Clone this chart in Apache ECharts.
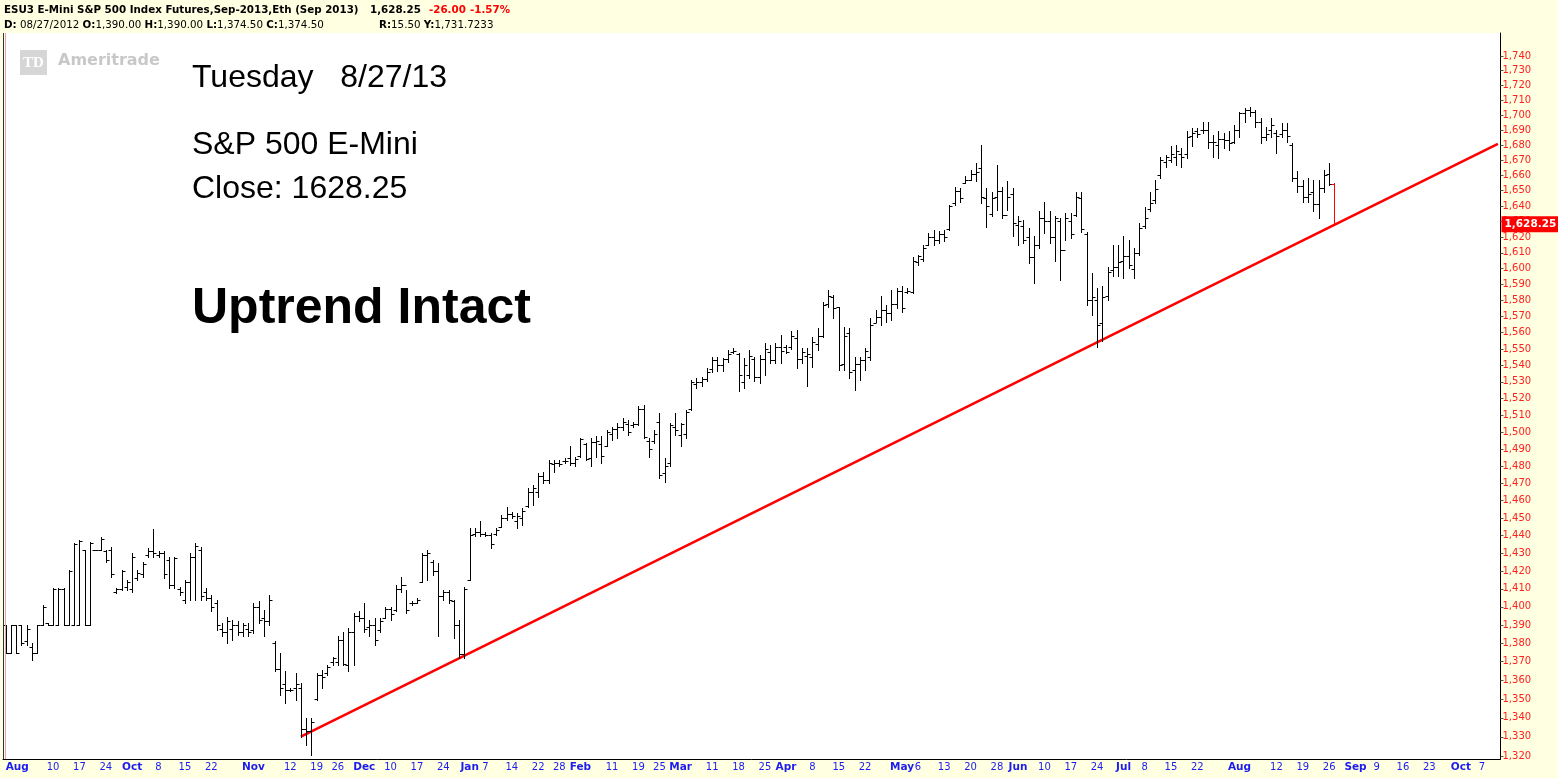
<!DOCTYPE html>
<html><head><meta charset="utf-8">
<script src="https://cdn.jsdelivr.net/npm/echarts@6/dist/echarts.min.js"></script>
<style>html,body{margin:0;padding:0;background:#FFFFE1;}#c{width:1558px;height:778px;}</style>
</head><body><div id="c"></div>
<script>
// ---- calendar (trading days incl. future blank days) ----
const startDate = '2012-08-27';
const endDate = '2013-10-10';
const holidays = ['2012-09-03','2012-11-22','2012-12-25','2013-01-01','2013-01-21','2013-02-18','2013-03-29','2013-05-27','2013-07-04','2013-09-02'];

// ---- OHLC values (ESU3 daily) ----
const opens = [
1390,1374.5,1390,1390,1381,1378,1375,1390,1391,1390,
1390,1410,1390,1390,1390,1432,1390,1431.5,1432,1431,
1432,1408,1410,1411,1410,1416,1418,1429,1431,1429,
1430,1426,1412,1410,1404,1414,1428,1432,1408,1405,
1402,1388,1386,1388,1390,1386,1388,1387,1400,1394,
1392,1380,1366,1358,1355,1356,1356,1334,1333,1350,
1363,1364,1370,1370,1382,1368,1386,1395,1394,1389,
1390,1387,1394,1399,1398,1410,1412,1402,1402,1414,
1429,1425,1420,1406,1408,1403,1390,1374,1415,1441,
1442,1441,1440,1441,1445,1450,1452,1448,1450,1457,
1465,1465,1474,1472,1481,1482,1483,1485,1482,1486,
1493,1485,1494,1493,1492,1499,1502,1503,1505,1504,
1505,1514,1495,1495,1506,1476,1482,1503,1498,1499,
1514,1529,1530,1532,1538,1543,1540,1544,1548,1547,
1530,1534,1544,1533,1544,1548,1543,1551,1551,1551,
1557,1544,1546,1545,1553,1558,1578,1582,1576,1541,
1560,1537,1541,1543,1545,1566,1570,1574,1572,1578,
1586,1585,1585,1604,1606,1615,1620,1618,1622,1625,
1642,1650,1655,1657,1661,1665,1645,1635,1646,1650,
1634,1648,1628,1627,1620,1607,1615,1632,1630,1620,
1630,1612,1630,1634,1645,1622,1580,1580,1566,1583,
1599,1601,1605,1608,1600,1610,1627,1638,1644,1660,
1669,1670,1672,1674,1674,1686,1689,1690,1690,1682,
1680,1684,1683,1682,1690,1701,1703,1702,1695,1685,
1690,1688,1687,1690,1680,1658,1653,1646,1649,1641,
1652,1661,1654.5];
const highs = [
1390,1390,1390,1390,1390,1380,1390,1401,1391,1410.5,
1410.5,1410.5,1420.5,1436,1437.5,1432,1436.5,1432,1439,1432,
1433.75,1410.5,1420.5,1415,1430,1420.5,1425.25,1432.75,1443.5,1431,
1431,1428,1428,1411.25,1415,1430,1435.5,1433.75,1410.5,1406.5,
1403.75,1391,1394.5,1392.75,1392,1391,1391,1402,1403,1398.25,
1406.5,1381,1374.5,1364.75,1356,1363.75,1358.5,1339.75,1339.75,1364,
1365.5,1368.25,1372.75,1383.75,1386.25,1388.25,1396.5,1397.5,1402,1392.75,
1393.75,1393.75,1400,1400,1412.25,1416.75,1409.5,1403,1405,1430,
1431.75,1426.25,1424.25,1409.5,1409.5,1403.75,1392.75,1411.25,1444,1444,
1448,1442.25,1441.25,1444,1451.75,1456.5,1453.5,1452.75,1455.5,1467,
1469,1476,1476.75,1483.5,1483.5,1483.5,1484.5,1491.5,1485.5,1496.5,
1493.5,1496.5,1497.5,1497.5,1501.25,1503.25,1505.25,1508.25,1507.25,1506,
1515.25,1516.25,1496.5,1501.25,1511.25,1484.5,1505.25,1511.25,1505.25,1513.25,
1531.25,1532.25,1533.25,1538.25,1545.25,1545.25,1544.25,1549.5,1550.5,1547.5,
1544.25,1549.5,1545.25,1546.5,1553.5,1552.5,1553.5,1558.5,1552.5,1561.25,
1561.75,1550.5,1550.5,1557.5,1562.75,1579.25,1586.5,1583.5,1576,1563.75,
1562.75,1545.25,1545.25,1550.5,1569,1574,1582.5,1577.25,1586.5,1587.75,
1588.75,1587.75,1607.5,1608.5,1615,1622.5,1624.5,1624,1624.5,1640.75,
1652.5,1651.5,1659.25,1663.5,1668,1680,1651.5,1649.25,1666.75,1652.5,
1656,1651.5,1633.25,1631,1625.75,1620.5,1636.5,1642.75,1636.5,1633.25,
1632,1635.25,1635.25,1649.25,1649.25,1623.5,1597,1587.75,1588.75,1601.25,
1615,1615,1620.5,1618.25,1613,1629,1639.5,1649.25,1657,1672.25,
1673.5,1679,1680,1677.75,1689,1691,1691,1695.5,1695.5,1686.75,
1689,1687.75,1689,1693.25,1702.25,1704.5,1705.5,1703.5,1697.75,1692.25,
1697.75,1690,1694.5,1694.5,1681,1662.5,1657,1658,1657,1657,
1663.5,1668,1655];
const lows = [
1374.5,1374.5,1374.5,1379,1379,1371,1374.5,1390,1390,1390,
1390,1390,1390,1390,1390,1390,1390,1431.5,1431.5,1425,
1416.75,1407.5,1409.5,1409.5,1408.5,1415,1416.75,1428,1428,1428,
1416,1410.5,1410.5,1406.5,1402,1403.75,1403.75,1403.75,1403.75,1397.5,
1387.25,1383.75,1380,1382,1384.5,1383.75,1383.75,1385.5,1391,1383.75,
1390,1364.75,1352.25,1347.75,1354,1349.5,1330,1325.75,1320.5,1349.5,
1355.75,1363,1368.25,1368.25,1368.25,1364.75,1368.25,1392,1386.25,1383.75,
1379,1386.25,1393.75,1392.75,1397.5,1408.5,1396.5,1401,1402,1414,
1415,1417.75,1383.75,1403.75,1402,1383,1372,1372,1415,1439.5,
1439.5,1439.5,1432.75,1440.5,1445,1449,1450,1444,1446,1456.5,
1457.5,1462.25,1470,1470,1476.75,1479.75,1482,1480.75,1479.75,1485.5,
1483.5,1479.75,1485.5,1481.75,1491.5,1495.5,1496.5,1501.25,1498.25,1503,
1504.25,1496.5,1485.5,1493.5,1473,1471,1479.75,1498.25,1491.5,1496.5,
1513.25,1526.25,1527.25,1530.25,1536.25,1536.75,1536.75,1542.25,1547.5,1524.25,
1526.25,1532.25,1530.25,1529.25,1534.25,1541.25,1541.25,1541.25,1547.5,1550,
1538.25,1541.25,1527.25,1539.25,1549.5,1557.5,1576,1569,1537.25,1537.25,
1532.25,1525.25,1531.25,1537.25,1543.25,1566.75,1564.75,1566.75,1568,1575,
1573,1584.5,1584.5,1602.25,1604.5,1615,1615,1616,1617.25,1624.5,
1640.75,1642.75,1654.75,1657,1656,1641.75,1626.75,1633.25,1637.5,1632,
1637.5,1620.5,1615,1616,1603.5,1590.75,1613,1622.5,1616,1604.5,
1592.75,1618.25,1619.25,1633.25,1623.5,1577.25,1571,1551,1555,1580.25,
1595,1595,1593.75,1600.25,1593.75,1608.75,1625.75,1636.5,1641.75,1658,
1665.75,1669,1666.75,1665.75,1671.25,1679,1685.5,1687.75,1677.75,1672.25,
1671.25,1677.75,1676.75,1681,1685.5,1695.5,1699,1692.25,1681,1683.25,
1685.5,1674.5,1685.5,1682.25,1656,1649.25,1642.75,1642.75,1636.5,1632,
1649.25,1653.75,1627.5];
const closes = [
1374.5,1390,1374.5,1380,1388,1375,1390,1400,1390,1410,
1410,1390,1420,1435,1437,1390,1436,1432,1438,1426,
1418,1410,1420,1414,1428,1419,1424,1431,1430,1430,
1418,1412,1427,1408,1414,1428,1434,1406,1405,1400,
1390,1386,1392,1390,1386,1390,1386,1400,1393,1392,
1404,1366,1356,1355,1355,1358,1334,1333,1338,1363,
1362,1367,1372,1382,1369,1386,1395,1394,1388,1390,
1382,1392,1399,1396,1410,1412,1398,1402,1404,1429,
1430,1420,1406,1408,1404,1390,1374,1410,1440,1442,
1441,1440,1435,1443,1450,1452,1451,1451,1454,1465,
1467,1474,1472,1482,1482,1481,1483,1482,1484,1496,
1484,1494,1495,1486,1500,1502,1503,1506,1500,1505,
1514,1497,1490,1499,1475,1480,1504,1501,1505,1512,
1530,1530,1532,1536,1543,1540,1544,1547,1549,1534,
1540,1546,1533,1544,1550,1543,1551,1549,1548,1558,
1544,1548,1547,1554,1558,1577,1583,1575,1540,1558,
1536,1541,1543,1549,1565,1570,1574,1572,1578,1586,
1575,1586,1605,1608,1613,1620,1618,1622,1620,1640,
1650,1645,1657,1661,1662,1646,1640,1645,1650,1634,
1646,1629,1630,1618,1607,1615,1632,1630,1620,1632,
1612,1632,1622,1646,1625,1580,1582,1565,1582,1598,
1601,1604,1608,1602,1610,1626,1632,1642,1651,1670,
1672,1674,1676,1672,1685,1688,1687,1690,1682,1682,
1684,1683,1681,1690,1701,1703,1702,1695,1685,1687,
1693,1686,1690,1686,1658,1653,1646,1648,1641,1652,
1660,1654.25,1628.25];

// ---- axis ticks / labels ----
const yTicks = [1320,1330,1340,1350,1360,1370,1380,1390,1400,1410,1420,1430,1440,1450,1460,1470,1480,1490,1500,1510,1520,1530,1540,1550,1560,1570,1580,1590,1600,1610,1620,1630,1640,1650,1660,1670,1680,1690,1700,1710,1720,1730,1740];
const xLabelDates = ['2012-08-27','2012-09-10','2012-09-17','2012-09-24','2012-10-01','2012-10-08','2012-10-15','2012-10-22','2012-11-01','2012-11-12','2012-11-19','2012-11-26','2012-12-03','2012-12-10','2012-12-17','2012-12-24','2013-01-02','2013-01-07','2013-01-14','2013-01-22','2013-01-28','2013-02-01','2013-02-11','2013-02-19','2013-02-25','2013-03-01','2013-03-11','2013-03-18','2013-03-25','2013-04-01','2013-04-08','2013-04-15','2013-04-22','2013-05-01','2013-05-06','2013-05-13','2013-05-20','2013-05-28','2013-06-03','2013-06-10','2013-06-17','2013-06-24','2013-07-01','2013-07-08','2013-07-15','2013-07-22','2013-08-01','2013-08-12','2013-08-19','2013-08-26','2013-09-03','2013-09-09','2013-09-16','2013-09-23','2013-10-01','2013-10-07'];
const xLabelTexts = ['Aug','10','17','24','Oct','8','15','22','Nov','12','19','26','Dec','10','17','24','Jan','7','14','22','28','Feb','11','19','25','Mar','11','18','25','Apr','8','15','22','May','6','13','20','28','Jun','10','17','24','Jul','8','15','22','Aug','12','19','26','Sep','9','16','23','Oct','7'];

// ---- trendline & last price ----
const trendDates = ['2012-11-14','2013-10-10'];
const trendValues = [1330.1, 1680.7];
const lastClose = 1628.25;
const cursorDate = '2012-08-27';

// build trading calendar
const dates = [];
(function(){
  const d = new Date(startDate + 'T00:00:00Z');
  const end = new Date(endDate + 'T00:00:00Z');
  while (d <= end) {
    const wd = d.getUTCDay();
    const s = d.toISOString().slice(0,10);
    if (wd !== 0 && wd !== 6 && holidays.indexOf(s) < 0) dates.push(s);
    d.setUTCDate(d.getUTCDate()+1);
  }
})();
const xLabelMap = {};
xLabelDates.forEach((d,i)=>{ xLabelMap[d] = xLabelTexts[i]; });
const monthNames = ['Jan','Feb','Mar','Apr','May','Jun','Jul','Aug','Sep','Oct','Nov','Dec'];

const ohlc = opens.map((o,i)=>[i, o, highs[i], lows[i], closes[i]]);
const lastIdx = closes.length - 1;

const chart = echarts.init(document.getElementById('c'), null, {renderer:'canvas', width:1558, height:778});
const hdrFont = '10.3px "DejaVu Sans"';
const hdrBold = 'bold 10.3px "DejaVu Sans"';

const option = {
  backgroundColor: '#FFFFE1',
  animation: false,
  grid: {left:3, right:57.5, top:33, bottom:19, show:true, backgroundColor:'#ffffff', borderWidth:0, containLabel:false, outerBoundsMode:'none'},
  xAxis: {
    type:'category', data: dates, boundaryGap: true,
    axisLine:{show:true, lineStyle:{color:'#000', width:1}},
    axisTick:{show:false},
    splitLine:{show:false},
    axisLabel:{
      interval: (i, v) => xLabelMap[v] !== undefined,
      formatter: v => { const t = xLabelMap[v]; if (t === undefined) return ''; return monthNames.indexOf(t) >= 0 ? '{m|' + t + '}' : '{n|' + t + '}'; },
      margin: 3,
      alignMinLabel: 'left',
      rich: {
        m: {fontFamily:'DejaVu Sans', fontWeight:'bold', fontSize:10.5, color:'#1c1cf0'},
        n: {fontFamily:'DejaVu Sans', fontSize:10, color:'#1c1cf0'}
      }
    }
  },
  yAxis: {
    type:'log', logBase:10, min:1318.4, max:1755.9, position:'right',
    axisLine:{show:true, lineStyle:{color:'#000', width:1}},
    axisTick:{show:true, customValues: yTicks, length:3, lineStyle:{color:'#555'}},
    axisLabel:{customValues: yTicks, formatter: v => Number(v).toLocaleString('en-US'), color:'#ff2020', fontSize:10, fontFamily:'DejaVu Sans', margin:2},
    splitLine:{show:false}
  },
  series: [
    {
      type:'custom', name:'ESU3', data: ohlc, encode:{x:0, y:[1,2,3,4]}, z:5,
      renderItem: function(params, api){
        const idx = api.value(0);
        const pH = api.coord([idx, api.value(2)]);
        const pL = api.coord([idx, api.value(3)]);
        const pO = api.coord([idx, api.value(1)]);
        const pC = api.coord([idx, api.value(4)]);
        const x = Math.round(pH[0]) + 0.5;
        const col = idx === lastIdx ? '#ff0000' : '#000000';
        const yo = Math.round(pO[1]) + 0.5, yc = Math.round(pC[1]) + 0.5;
        return {type:'group', children:[
          {type:'line', shape:{x1:x, y1:Math.round(pH[1]), x2:x, y2:Math.round(pL[1])+1}, style:{stroke:col, lineWidth:1}},
          {type:'line', shape:{x1:x-3, y1:yo, x2:x, y2:yo}, style:{stroke:col, lineWidth:1}},
          {type:'line', shape:{x1:x, y1:yc, x2:x+3, y2:yc}, style:{stroke:col, lineWidth:1}}
        ]};
      }
    },
    {
      type:'line', name:'trend', data: trendDates.map((d,i)=>[d, trendValues[i]]),
      symbol:'none', lineStyle:{color:'#ff0000', width:2.6}, z:4, silent:true,
      markLine:{
        silent:true, symbol:['none','none'], animation:false, z:20,
        data:[
          {yAxis: lastClose, lineStyle:{color:'rgba(255,255,255,0)', width:0},
           label:{show:true, position:'end', distance:1, formatter: () => Number(lastClose).toLocaleString('en-US',{minimumFractionDigits:2}),
                  backgroundColor:'#ff0000', color:'#ffffff', fontWeight:'bold', fontSize:10.5, fontFamily:'DejaVu Sans', padding:[3,4,2,3], opacity:1}},
          {xAxis: cursorDate, lineStyle:{color:'#f2a0a0', width:1, type:'solid'}, label:{show:false}}
        ]
      }
    }
  ],
  graphic: [
    {type:'line', shape:{x1:3.5, y1:33, x2:3.5, y2:759}, style:{stroke:'#333', lineWidth:1}, z:10},
    {type:'text', style:{x:4, y:10, text:'ESU3 E-Mini S&P 500 Index Futures,Sep-2013,Eth (Sep 2013)', font:hdrBold, fill:'#000', verticalAlign:'middle'}},
    {type:'text', style:{x:370, y:10, text:'1,628.25', font:hdrBold, fill:'#000', verticalAlign:'middle'}},
    {type:'text', style:{x:429, y:10, text:'-26.00', font:hdrBold, fill:'#ff0000', verticalAlign:'middle'}},
    {type:'text', style:{x:470, y:10, text:'-1.57%', font:hdrBold, fill:'#ff0000', verticalAlign:'middle'}},
    {type:'text', style:{x:4, y:25, text:'{b|D:} 08/27/2012 {b|O:}1,390.00 {b|H:}1,390.00 {b|L:}1,374.50 {b|C:}1,374.50', font:hdrFont, fill:'#000', verticalAlign:'middle', rich:{b:{font:hdrBold, fill:'#000'}}}},
    {type:'text', style:{x:379, y:25, text:'{b|R:}15.50 {b|Y:}1,731.7233', font:hdrFont, fill:'#000', verticalAlign:'middle', rich:{b:{font:hdrBold, fill:'#000'}}}},
    {type:'rect', shape:{x:20, y:50, width:27, height:25}, style:{fill:'#d6d6d6'}},
    {type:'text', style:{x:33.5, y:63, text:'TD', font:'bold 15px "Liberation Serif"', fill:'#ffffff', align:'center', verticalAlign:'middle'}},
    {type:'text', style:{x:58, y:61, text:'Ameritrade', font:'bold 16px "DejaVu Sans"', fill:'#c8c8c8', verticalAlign:'middle'}},
    {type:'text', style:{x:192, y:78, text:'Tuesday   8/27/13', font:'32px "Liberation Sans"', fill:'#000', verticalAlign:'middle'}},
    {type:'text', style:{x:192, y:145, text:'S&P 500 E-Mini', font:'32px "Liberation Sans"', fill:'#000', verticalAlign:'middle'}},
    {type:'text', style:{x:192, y:189, text:'Close: 1628.25', font:'32px "Liberation Sans"', fill:'#000', verticalAlign:'middle'}},
    {type:'text', style:{x:192, y:309, text:'Uptrend Intact', font:'bold 50px "Liberation Sans"', fill:'#000', verticalAlign:'middle'}}
  ]
};
chart.setOption(option);
</script>
</body></html>
